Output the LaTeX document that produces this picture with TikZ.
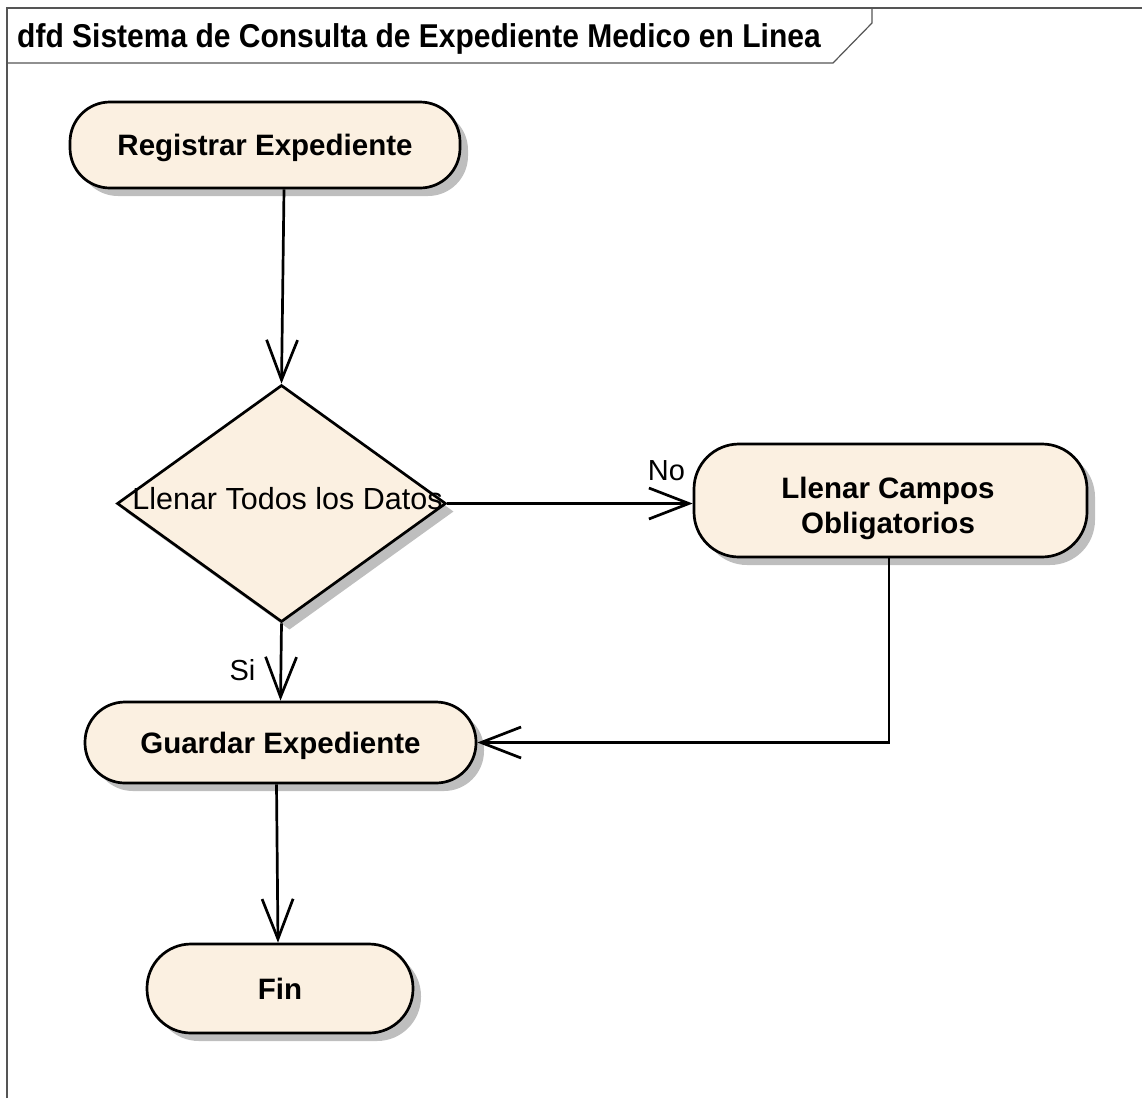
\documentclass[tikz,border=0pt]{standalone}
\usepackage{fontspec}
\setmainfont{Liberation Sans}
\usetikzlibrary{arrows.meta,shapes.geometric,shadows}
\definecolor{nodefill}{HTML}{FBF0E1}
\definecolor{shadowgray}{HTML}{BEBEBE}
\definecolor{framegray}{HTML}{555555}

\begin{document}
\begin{tikzpicture}[x=1pt,y=-1pt,
  shade8/.style={drop shadow={shadow xshift=8pt, shadow yshift=-8pt, fill=shadowgray, opacity=1}},
  act/.style={rectangle, draw=black, line width=2.7pt, fill=nodefill, rounded corners=#1,
    inner sep=0pt, shade8, font=\fontsize{29.5}{35}\selectfont\bfseries, align=center,
    text height=21pt, text depth=0pt},
  act/.default=40pt,
  acttext/.style={inner sep=0pt, font=\fontsize{29.5}{34.5}\selectfont\bfseries, align=center},
  decision/.style={diamond, draw=black, line width=2.7pt, fill=nodefill, inner sep=0pt, shade8},
  flow/.style={draw=black, line width=2.7pt, -{Straight Barb[length=40pt,width=31pt]}},
  lbl/.style={inner sep=0pt, anchor=base, font=\fontsize{29}{34}\selectfont},
  frameline/.style={draw=framegray, line width=1.6pt}
]
\useasboundingbox (0,0) rectangle (1142,1098);

% diagram frame and title tab
\draw[frameline] (7,1098) -- (7,8) -- (1142,8);
\draw[draw=framegray, line width=1.2pt] (872,8) -- (872,23) -- (833,63) -- (7,63);
\node[inner sep=0pt, anchor=base west, font=\fontsize{30}{36}\selectfont\bfseries]
  (title) at (17,47) {\scalebox{1}[1.1]{dfd Sistema de Consulta de Expediente Medico en Linea}};

% activities
\node[act, minimum width=390pt, minimum height=86pt] (reg) at (265,145) {Registrar Expediente};
\node[decision, minimum width=329pt, minimum height=237pt] (dec) at (281.5,503.5) {};
\node[lbl, font=\fontsize{30.5}{36}\selectfont] (dectxt) at (287.5,509) {Llenar Todos los Datos};
\node[act=45pt, minimum width=393pt, minimum height=113pt] (camp) at (890.5,500.5) {};
\node[acttext, anchor=north] (camptxt) at (888,477) {Llenar Campos\\Obligatorios};
\node[act, minimum width=391pt, minimum height=81pt] (guard) at (280.5,742.5) {Guardar Expediente};
\node[act=44pt, minimum width=266pt, minimum height=89pt] (fin) at (280,988.5) {Fin};

% connectors
\draw[flow] ([xshift=19pt]reg.south) -- (dec.north);
\draw[flow] (dec.east) -- (dec.east -| camp.west);
\draw[flow] ([xshift=-1.5pt]camp.south) |- (guard.east);
\draw[flow] (dec.south) -- (guard.north);
\draw[flow] ([xshift=-4pt]guard.south) -- ([xshift=-2pt]fin.north);

% guard labels
\node[lbl] (nolbl) at (666.5,480) {No};
\node[lbl] (silbl) at (242.5,680) {Si};
\end{tikzpicture}
\end{document}
